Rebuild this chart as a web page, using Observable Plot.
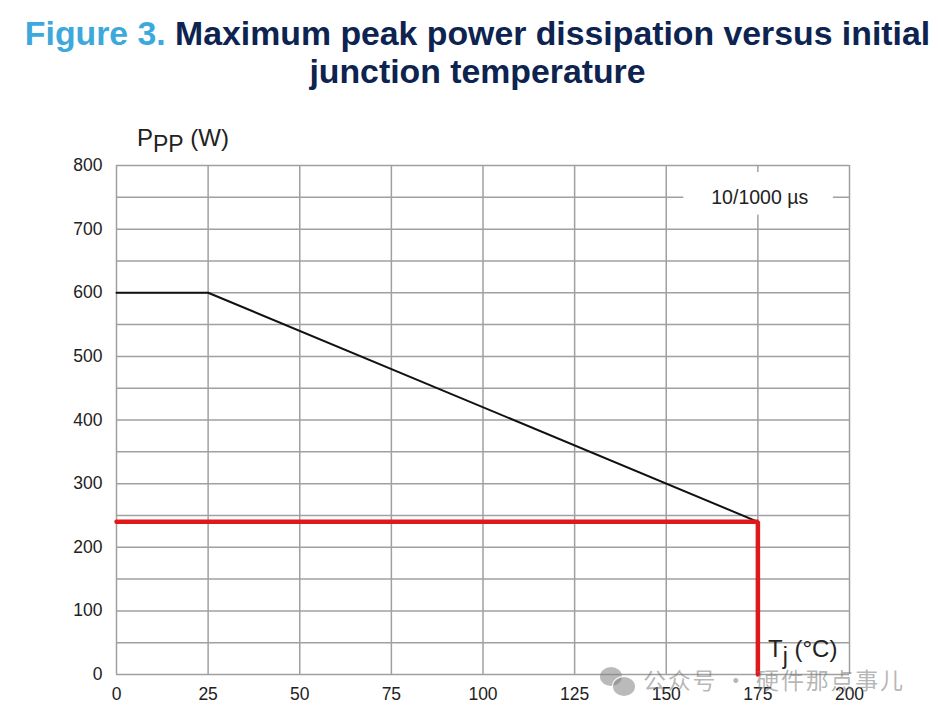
<!DOCTYPE html>
<html>
<head>
<meta charset="utf-8">
<script src="https://cdn.jsdelivr.net/npm/d3@7"></script>
<script src="https://cdn.jsdelivr.net/npm/@observablehq/plot@0.6"></script>
<style>
  html, body { margin: 0; padding: 0; background: #fff; }
  body { width: 938px; height: 718px; position: relative; overflow: hidden; font-family: "Liberation Sans", Arial, sans-serif; }
  #title { position: absolute; left: 0; top: 14px; width: 955px; text-align: center; font-weight: bold; font-size: 33.8px; line-height: 38px; color: #0d2350; white-space: nowrap; }
  #title .fig { color: #3ca8dc; }
  #chart { position: absolute; left: 0; top: 105px; }
  #wm { position: absolute; left: 643px; top: 662px; font-family: "Noto Sans CJK SC", sans-serif; font-size: 23px; color: rgba(120,120,120,0.55); letter-spacing: 1.8px; white-space: nowrap; }
  .bub { position: absolute; border-radius: 50%; background: rgba(130,130,130,0.55); }
</style>
</head>
<body>
<div id="title"><span class="fig">Figure 3.</span> Maximum peak power dissipation versus initial<br>junction temperature</div>
<div id="chart"></div>
<div class="bub" style="left:600px;top:667px;width:22px;height:19px;"></div>
<div class="bub" style="left:612px;top:676px;width:22px;height:19px;border:1.5px solid #fff;"></div>
<div id="wm">公众号 · 硬件那点事儿</div>
<script>
// Data
const xTicks = [0, 25, 50, 75, 100, 125, 150, 175, 200];
const yTicks = [0, 100, 200, 300, 400, 500, 600, 700, 800];
const yGrid = [50, 150, 250, 350, 450, 550, 650, 750];
const curveT = [0, 25, 175];
const curveP = [600, 600, 240];
const markT = [0, 175, 175];
const markP = [240, 240, 0];
const legendLabel = "10/1000 µs";

const curve = curveT.map((t, i) => ({t, p: curveP[i]}));
const marker = markT.map((t, i) => ({t, p: markP[i]}));

const W = 938, H = 613;
const gridColor = "#a0a0a0";
const font = "'Liberation Sans', Arial, sans-serif";

const chart = Plot.plot({
  width: W,
  height: H,
  marginLeft: 116,
  marginRight: 89,
  marginTop: 60,
  marginBottom: 44,
  style: {fontFamily: font, fontSize: "17px", color: "#222", background: "#fff"},
  x: {domain: [0, 200], ticks: xTicks, tickSize: 0, tickPadding: 13, label: null},
  y: {domain: [0, 800], ticks: yTicks, tickSize: 0, tickPadding: 14, label: null},
  marks: [
    Plot.ruleX(xTicks, {stroke: gridColor, strokeWidth: 1.5}),
    Plot.ruleY(yTicks, {stroke: gridColor, strokeWidth: 1.5}),
    Plot.ruleY(yGrid, {stroke: gridColor, strokeWidth: 1.5}),
    // legend box background
    Plot.rect([{x1: 154.8, x2: 195.6, y1: 722, y2: 789}], {x1: "x1", x2: "x2", y1: "y1", y2: "y2", fill: "#fff"}),
    Plot.text([{x: 175.5, y: 750}], {x: "x", y: "y", text: () => legendLabel, fontSize: 19.5, fill: "#222"}),
    Plot.line(curve, {x: "t", y: "p", stroke: "#111", strokeWidth: 2}),
    Plot.line(marker, {x: "t", y: "p", stroke: "#e0181b", strokeWidth: 4.5, strokeLinejoin: "miter"}),
    Plot.axisX({ticks: xTicks, tickSize: 0, tickPadding: 13, fontSize: 17.5, fill: "#222", label: null}),
    Plot.axisY({ticks: yTicks, tickSize: 0, tickPadding: 14, fontSize: 17.5, fill: "#222", label: null})
  ]
});
document.getElementById("chart").appendChild(chart);

// axis labels with subscripts
const svg = d3.select(chart);
const yl = svg.append("text").attr("x", 137).attr("y", 41).attr("text-anchor", "start")
  .attr("font-size", 24).attr("fill", "#222").attr("font-family", font);
yl.append("tspan").text("P");
yl.append("tspan").attr("dy", 6).attr("font-size", 23).text("PP");
yl.append("tspan").attr("dy", -6).text(" (W)");

const xl = svg.append("text").attr("x", 768).attr("y", 552).attr("text-anchor", "start")
  .attr("font-size", 24).attr("fill", "#222").attr("font-family", font);
xl.append("tspan").text("T");
xl.append("tspan").attr("dy", 7).attr("font-size", 23).text("j");
xl.append("tspan").attr("dy", -7).text(" (°C)");
</script>
</body>
</html>
